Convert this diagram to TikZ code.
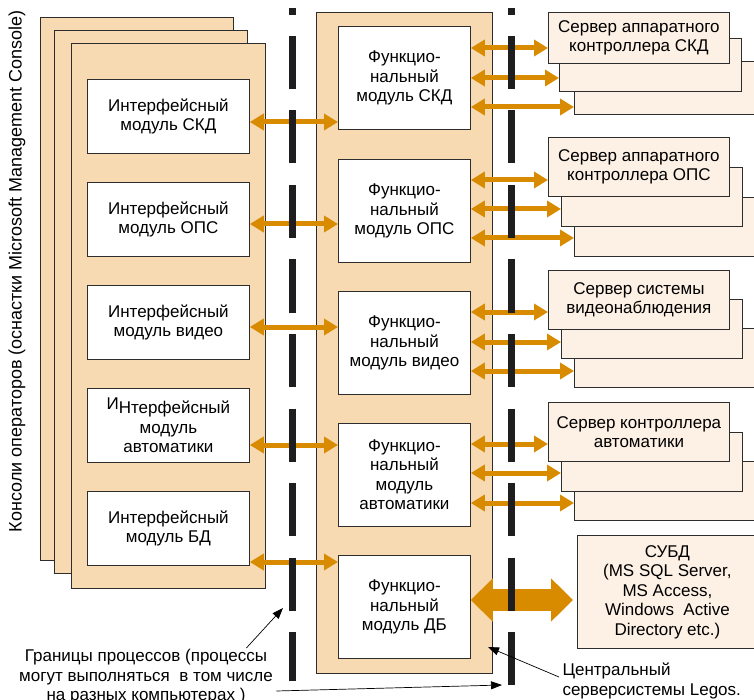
\documentclass[tikz,border=0pt]{standalone}
\usepackage{fontspec}
\setmainfont{Liberation Sans}
\usepackage{xcolor}
\usepackage{tikz}
\usetikzlibrary{arrows.meta, positioning}

\definecolor{paleorange}{RGB}{247,218,178}
\definecolor{palepeach}{RGB}{253,240,228}
\definecolor{linkorange}{RGB}{217,139,0}
\definecolor{boxline}{RGB}{45,45,45}
\definecolor{nearblack}{RGB}{30,30,32}

\tikzset{
    console/.style={draw=boxline, fill=paleorange, line width=0.8pt},
    module/.style={draw=boxline, fill=white, line width=0.8pt, anchor=north west,
        minimum width=162pt, minimum height=74pt, align=center, inner sep=0pt},
    funcbox/.style={module, minimum width=132pt, minimum height=103pt},
    page/.style={draw=boxline, fill=palepeach, line width=0.8pt, anchor=north west,
        minimum width=181pt, minimum height=59pt, align=center, inner sep=0pt},
    link/.style={draw=linkorange, line width=5pt,
        {Triangle[length=14pt,width=16pt]}-{Triangle[length=14pt,width=16pt]}},
    biglink/.style={draw=linkorange, line width=22pt, shorten >=4pt,
        {Triangle[length=22pt,width=42pt]}-{Triangle[length=22pt,width=42pt]}},
    border/.style={draw=nearblack, line width=7pt},
    note/.style={draw=black, line width=0.7pt, -{Triangle[length=11pt,width=8pt]}},
}

\begin{document}
\begin{tikzpicture}[x=1pt, y=-1pt, font=\fontsize{17}{19.5}\selectfont]
    \useasboundingbox (0,0) rectangle (754,700);
    % Operator consoles (stacked)
    \draw[console] (40,17) rectangle (233,560);
    \draw[console] (54,30) rectangle (247,573);
    \draw[console] (71,43) rectangle (265,588);
    \node[rotate=90, font=\fontsize{18}{20}\selectfont] (consoles) at (17,271) {Консоли операторов (оснастки Microsoft Management Console)};
    % Interface modules
    \node[module] (i1) at (87,79) {Интерфейсный\\модуль СКД};
    \node[module] (i2) at (87,182) {Интерфейсный\\модуль ОПС};
    \node[module] (i3) at (87,285) {Интерфейсный\\модуль видео};
    \node[module] (i4) at (87,388) {\raisebox{4pt}{И}Нтерфейсный\\модуль\\автоматики};
    \node[module] (i5) at (87,491) {Интерфейсный\\модуль БД};
    % Central server
    \draw[console] (316,12) rectangle (492,673);
    \node[funcbox] (f1) at (338,26) {Функцио-\\нальный\\модуль СКД};
    \node[funcbox] (f2) at (338,159) {Функцио-\\нальный\\модуль ОПС};
    \node[funcbox] (f3) at (338,291) {Функцио-\\нальный\\модуль видео};
    \node[funcbox] (f4) at (338,423) {Функцио-\\нальный\\модуль\\автоматики};
    \node[funcbox] (f5) at (338,555) {Функцио-\\нальный\\модуль ДБ};
    % Hardware servers (stacked pages)
    \node[page, minimum width=216pt, minimum height=53pt] (s1c) at (574,61) {};
    \node[page, minimum width=182pt, minimum height=53pt] (s1b) at (559,38) {};
    \node[page, minimum height=51pt] (s1a) at (548,12) {Сервер аппаратного\\контроллера СКД};
    \node[page, minimum width=216pt] (s2c) at (574,197) {};
    \node[page] (s2b) at (561,167) {};
    \node[page] (s2a) at (548,137) {Сервер аппаратного\\контроллера ОПС};
    \node[page, minimum width=216pt] (s3c) at (574,328) {};
    \node[page] (s3b) at (561,299) {};
    \node[page] (s3a) at (548,270) {Сервер системы\\видеонаблюдения};
    \node[page, minimum width=216pt] (s4c) at (574,461) {};
    \node[page] (s4b) at (561,432) {};
    \node[page] (s4a) at (548,402) {Сервер контроллера\\автоматики};
    % DBMS
    \node[page, minimum width=180pt, minimum height=113pt] (dbms) at (577,535)
        {СУБД\\(MS SQL Server,\\MS Access,\\Windows~ Active\\Directory etc.)};
    % Links console - server
    \draw[link] (i1.east |- 0,122) -- (f1.west |- 0,122);
    \draw[link] (i2.east |- 0,224) -- (f2.west |- 0,224);
    \draw[link] (i3.east |- 0,327) -- (f3.west |- 0,327);
    \draw[link] (i4.east |- 0,445) -- (f4.west |- 0,445);
    \draw[link] (i5.east |- 0,562) -- (f5.west |- 0,562);
    % Links server - hardware
    \draw[link] (f1.east |- 0,48) -- (s1a.west |- 0,48);
    \draw[link] (f1.east |- 0,78) -- (s1b.west |- 0,78);
    \draw[link] (f1.east |- 0,107) -- (s1c.west |- 0,107);
    \draw[link] (f2.east |- 0,180) -- (s2a.west |- 0,180);
    \draw[link] (f2.east |- 0,209) -- (s2b.west |- 0,209);
    \draw[link] (f2.east |- 0,238) -- (s2c.west |- 0,238);
    \draw[link] (f3.east |- 0,312) -- (s3a.west |- 0,312);
    \draw[link] (f3.east |- 0,342) -- (s3b.west |- 0,342);
    \draw[link] (f3.east |- 0,371) -- (s3c.west |- 0,371);
    \draw[link] (f4.east |- 0,444) -- (s4a.west |- 0,444);
    \draw[link] (f4.east |- 0,473) -- (s4b.west |- 0,473);
    \draw[link] (f4.east |- 0,503) -- (s4c.west |- 0,503);
    \draw[biglink] (f5.east |- 0,600) -- (dbms.west |- 0,600);
    % Process borders
    \draw[border] (292,8) -- (292,15);
    \draw[border, dash pattern=on 53pt off 21.5pt] (292,36) -- (292,681);
    \draw[border] (511,8) -- (511,15);
    \draw[border, dash pattern=on 53pt off 21.5pt] (511,36) -- (511,685);
    % Notes
    \node[align=center] (bounds) at (146,677) {Границы процессов (процессы\\могут выполняться~ в том числе\\на разных компьютерах )};
    \node[align=left, anchor=west] (legos) at (559,681) {Центральный\\серверсистемы Legos.};
    \coordinate (bndL) at (283,608);
    \coordinate (bndR) at (502,685);
    \coordinate (srvC) at (488,647);
    \draw[note] ([xshift=-30pt,yshift=-2pt]bounds.north east) -- (bndL);
    \draw[note] ([yshift=-14pt]bounds.east) -- (bndR);
    \draw[note] ([yshift=4pt]legos.west) -- (srvC);
\end{tikzpicture}
\end{document}
